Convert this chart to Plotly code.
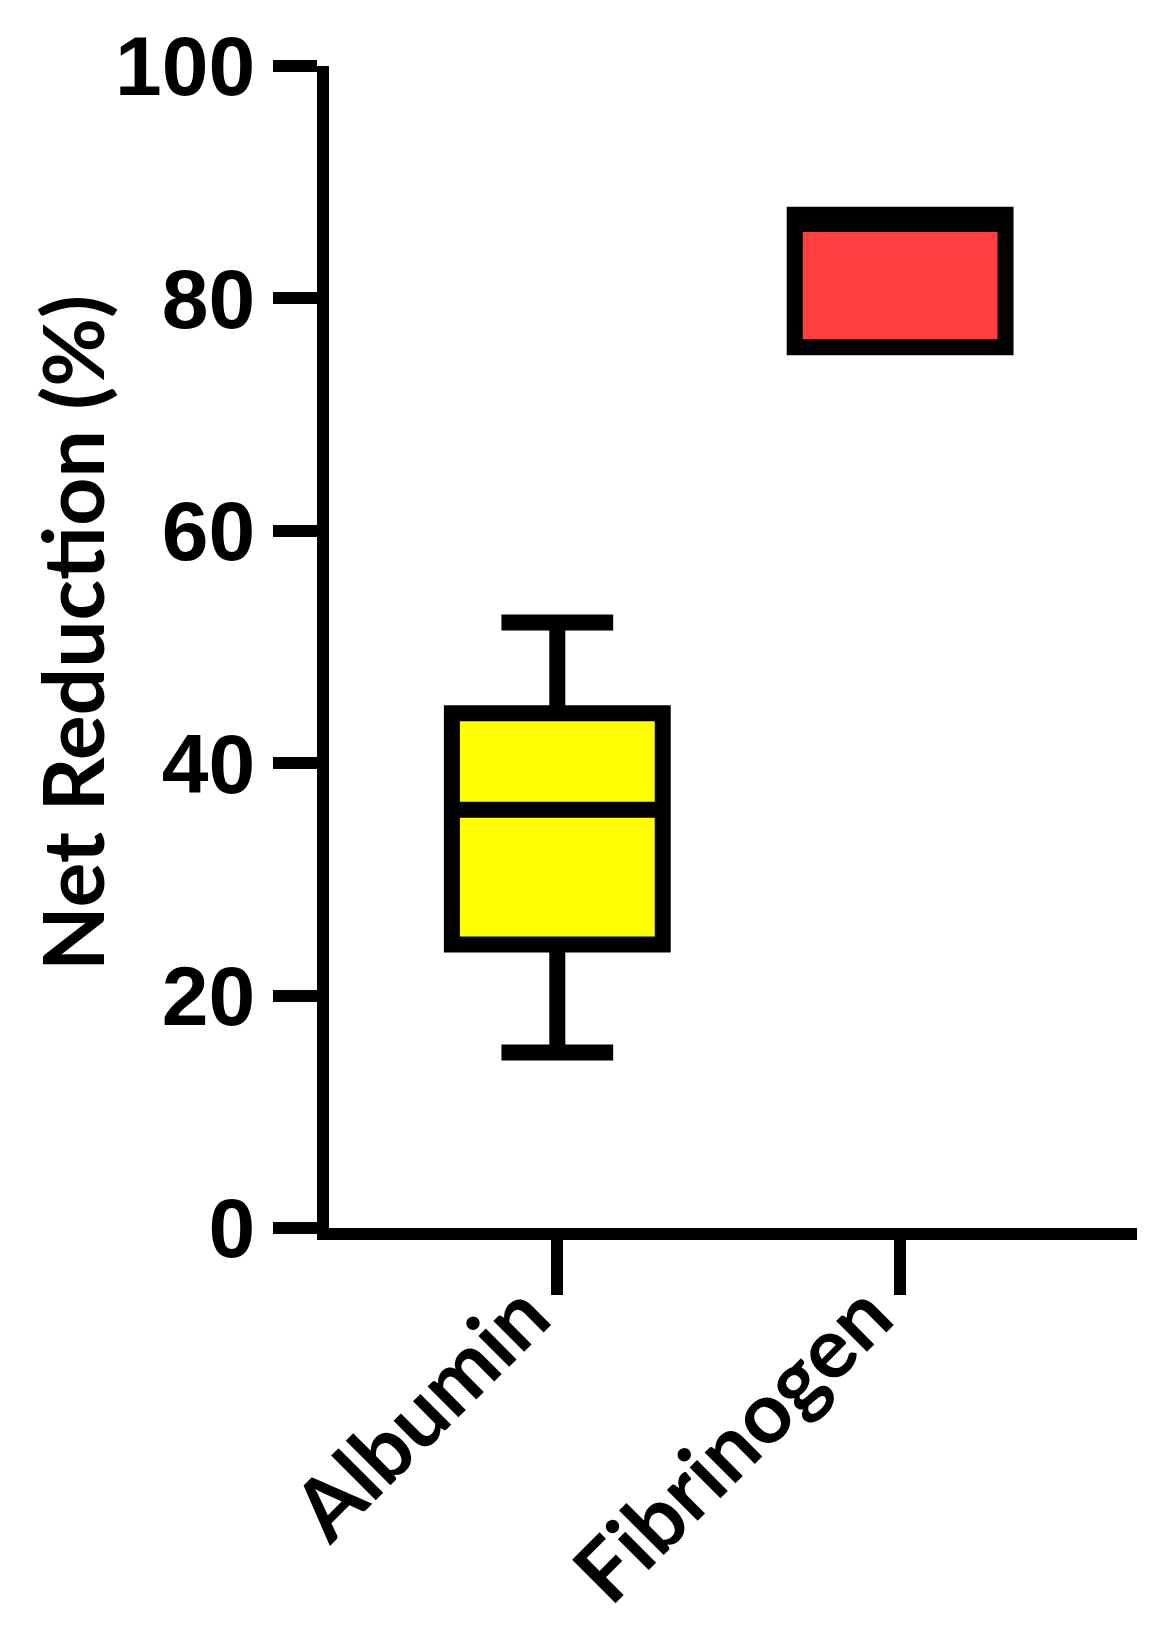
import plotly.graph_objects as go

categories = ["Albumin", "Fibrinogen"]
lower_fence = [15.1, 75.8]
q1_vals = [24.4, 75.8]
median_vals = [36.0, 86.4]
q3_vals = [44.3, 87.2]
upper_fence = [52.1, 87.2]
fill_colors = ["#FFFF00", "#FF3F3F"]
y_ticks = [0, 20, 40, 60, 80, 100]

fig = go.Figure()
for i, cat in enumerate(categories):
    fig.add_trace(go.Box(
        x=[cat],
        q1=[q1_vals[i]], median=[median_vals[i]], q3=[q3_vals[i]],
        lowerfence=[lower_fence[i]], upperfence=[upper_fence[i]],
        fillcolor=fill_colors[i],
        line=dict(color="black", width=16),
        width=0.615,
        whiskerwidth=0.53,
        boxpoints=False,
        showlegend=False,
        hoverinfo="skip",
    ))

fig.update_layout(
    width=1166, height=1637,
    margin=dict(l=321, r=37, t=58, b=417, autoexpand=False),
    paper_bgcolor="white", plot_bgcolor="white",
    showlegend=False,
)
fig.update_xaxes(
    type="category",
    categoryorder="array", categoryarray=categories,
    range=[-0.666, 1.691],
    automargin=False,
    showline=True, linecolor="black", linewidth=12,
    ticks="outside", ticklen=55, tickwidth=12, tickcolor="black",
    tickangle=-45,
    tickfont=dict(family="Lato", size=85, color="black", weight="bold"),
    ticklabelstandoff=-63,
    ticklabelshift=-33,
    showgrid=False, zeroline=False,
)
fig.update_yaxes(
    range=[0, 100],
    automargin=False,
    tickvals=y_ticks, ticktext=[str(v) for v in y_ticks],
    showline=True, linecolor="black", linewidth=12,
    ticks="outside", ticklen=44, tickwidth=12, tickcolor="black",
    tickfont=dict(family="Liberation Sans, Arial", size=84, color="black", weight="bold"),
    ticklabelstandoff=1,
    showgrid=False, zeroline=False,
)
fig.add_annotation(
    text="Net Reduction (%)",
    xref="paper", yref="paper",
    x=(70 - 328) / 808, y=(1228 - 633) / 1162,
    xanchor="center", yanchor="middle",
    textangle=-90, showarrow=False,
    font=dict(family="Lato", size=84, color="black", weight="bold"),
)

fig.write_html("out.html")
